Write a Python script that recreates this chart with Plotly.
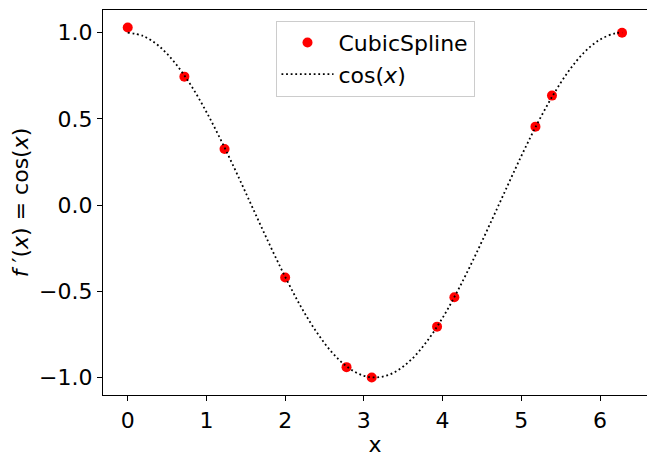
import plotly.graph_objects as go

# CubicSpline sample points
spline_x = [0.0, 0.72, 1.23, 2.0, 2.78, 3.1, 3.93, 4.15, 5.18, 5.39, 6.28]
spline_y = [1.03, 0.745, 0.325, -0.42, -0.94, -1.0, -0.705, -0.535, 0.455, 0.635, 1.0]

# cos(x) reference curve values
curve_x = [0.0, 0.2, 0.4, 0.6, 0.8, 1.0, 1.2, 1.4, 1.6, 1.8, 2.0, 2.2, 2.4, 2.6, 2.8, 3.0,
           3.2, 3.4, 3.6, 3.8, 4.0, 4.2, 4.4, 4.6, 4.8, 5.0, 5.2, 5.4, 5.6, 5.8, 6.0, 6.2, 6.283]
curve_y = [1.000, 0.980, 0.921, 0.825, 0.697, 0.540, 0.362, 0.170, -0.029, -0.227, -0.416,
           -0.589, -0.737, -0.857, -0.942, -0.990, -0.998, -0.967, -0.897, -0.791, -0.654,
           -0.490, -0.307, -0.112, 0.087, 0.284, 0.469, 0.635, 0.776, 0.886, 0.960, 0.997, 1.000]

x_ticks = [0, 1, 2, 3, 4, 5, 6]
y_ticks = [-1.0, -0.5, 0.0, 0.5, 1.0]

FONT = "DejaVu Sans"
FS = 22

fig = go.Figure()
fig.add_trace(go.Scatter(
    x=spline_x, y=spline_y, mode="markers", name="CubicSpline",
    marker=dict(color="red", size=10, line=dict(width=0)),
))
fig.add_trace(go.Scatter(
    x=curve_x, y=curve_y, mode="lines", name="cos(<i>x</i>)",
    line=dict(color="black", width=1.8, dash="1.8px,2.8px", shape="spline"),
))

axis_common = dict(
    showline=True, mirror=True, linecolor="black", linewidth=1.2,
    ticks="outside", ticklen=5, tickwidth=1.2, tickcolor="black",
    showgrid=False, zeroline=False, automargin=False,
    tickfont=dict(family=FONT, size=FS, color="black"),
)

# page body has an 8px default margin: figure spans page x 8..655, y 8..466
fig.update_layout(
    width=647, height=458,
    margin=dict(l=95, r=8, t=2, b=71),
    paper_bgcolor="white", plot_bgcolor="white",
    font=dict(family=FONT, size=FS, color="black"),
    xaxis=dict(range=[-0.314, 6.597], tickvals=x_ticks,
               title=dict(text="x", font=dict(family=FONT, size=FS), standoff=2),
               **axis_common),
    yaxis=dict(range=[-1.1015, 1.1315], tickvals=y_ticks, tickformat=".1f",
               title=dict(text="<i>f</i> ′(<i>x</i>) = cos(<i>x</i>)", font=dict(family=FONT, size=FS), standoff=10),
               **axis_common),
    legend=dict(x=0.5, xanchor="center", y=0.972, yanchor="top",
                bgcolor="rgba(255,255,255,0.8)", bordercolor="#cccccc", borderwidth=1,
                font=dict(family=FONT, size=FS), itemwidth=52, tracegroupgap=0),
    showlegend=True,
)

fig.write_html("out.html")
